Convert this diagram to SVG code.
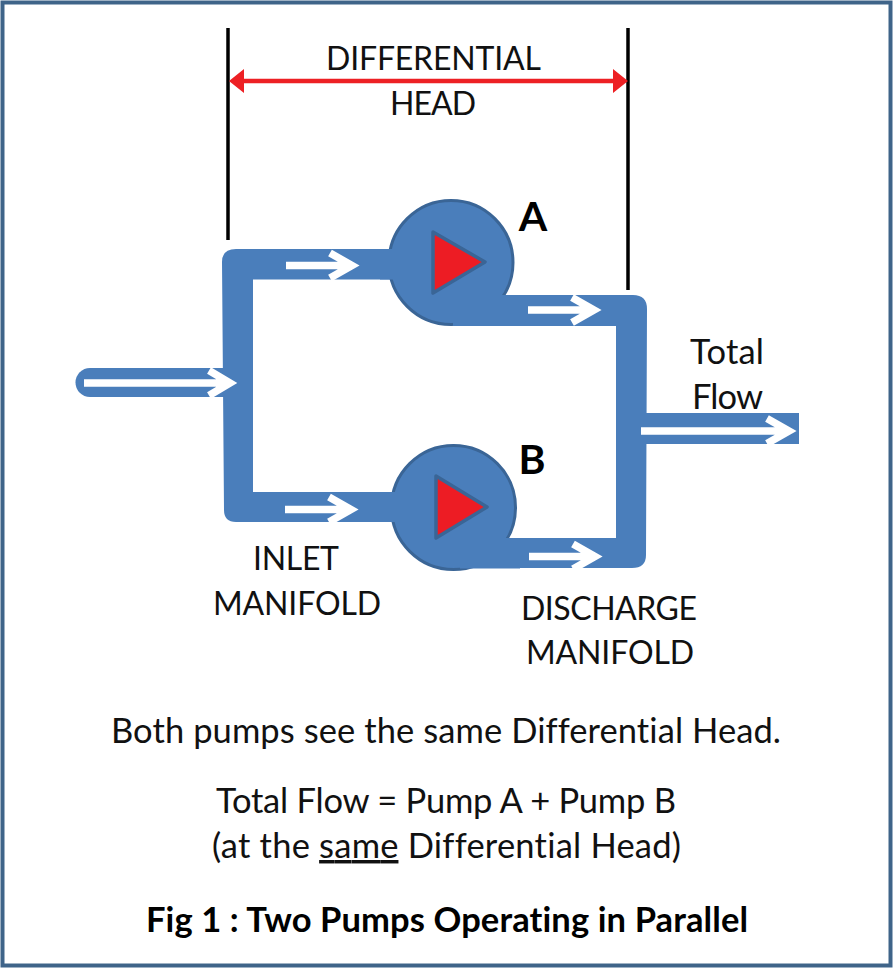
<svg xmlns="http://www.w3.org/2000/svg" width="893" height="968" viewBox="0 0 893 968">
<style>
text{font-family:Lato,"Open Sans",sans-serif;font-size:34.500px;fill:#111;text-anchor:middle;font-variant-ligatures:none}
.c{font-size:32px}
.b{font-weight:700;fill:#000}
.l{font-size:41px}
.pipe{fill:#4a7ebb}
.pump{fill:#4a7ebb;stroke:#3a6596;stroke-width:3}
.tri{fill:#ed1c24;stroke:#3a6596;stroke-width:3.500;stroke-linejoin:round}
.flow{fill:none;stroke:#fff;stroke-width:7.500}
.tick{stroke:#000;stroke-width:3.500}
</style>
<defs>
<g id="chev"><path class="flow" d="M-74 0H-10M-30-12.500L-8 0L-30 12.500"/></g>
</defs>
<rect x="2.500" y="2.500" width="888" height="963" fill="#fff" stroke="#3f6489" stroke-width="4"/>
<g id="connectors">
<path class="pipe" d="M90 368H240V397H90A14.500 14.500 0 0 1 90 368Z"/>
<path class="pipe" d="M236 249H400V279.500H253V492H400V522H236Q224 522 224 510L222 262Q222 249 236 249Z"/>
<path class="pipe" d="M453 295H633Q647 295 647 309L646 555Q646 568 632 568H460V538H616V326H453Z"/>
<path class="pipe" d="M640 413H799V444H640Z"/>
<line class="tick" x1="228" y1="28" x2="228" y2="240"/>
<line class="tick" x1="628" y1="28" x2="628" y2="290"/>
<path d="M244 78.700H613V69L628 81L613 93V83.300H244V93L229 81L244 69Z" fill="#ed2024"/>
</g>
<g id="pump-a"><circle class="pump" cx="451" cy="262.500" r="62"/><path class="pipe" d="M380 249H425V279.500H380Z"/><path class="pipe" d="M453 295H520V326H453Z"/><path class="tri" d="M433 232L485 262L433 293Z"/><text class="b l" x="533" y="231">A</text></g>
<g id="pump-b"><circle class="pump" cx="453.500" cy="507.500" r="62"/><path class="pipe" d="M380 492H428V522H380Z"/><path class="pipe" d="M460 538H520V568.500H460Z"/><path class="tri" d="M436 476L487 507L436 538Z"/><text class="b l" x="532" y="474">B</text></g>
<g id="arrows">
<path class="flow" d="M84 383H228M209 370.500L230 383L209 395.500"/>
<use href="#chev" transform="translate(360 265.500)"/>
<use href="#chev" transform="translate(359 509.500)"/>
<use href="#chev" transform="translate(602 310)"/>
<use href="#chev" transform="translate(603 556.500)"/>
<path class="flow" d="M641 431H787M767 418.500L789 431L767 443.500"/>
</g>
<g id="labels">
<text class="c" x="433.500" y="70" textLength="215">DIFFERENTIAL</text>
<text class="c" x="433" y="115" textLength="86">HEAD</text>
<text x="727" y="364" textLength="74">Total</text>
<text x="727.500" y="409" textLength="71">Flow</text>
<text class="c" x="296" y="570" textLength="86">INLET</text>
<text class="c" x="297" y="615" textLength="168">MANIFOLD</text>
<text class="c" x="609" y="620" textLength="176">DISCHARGE</text>
<text class="c" x="610" y="664" textLength="168">MANIFOLD</text>
<text x="446" y="743" textLength="670">Both pumps see the same Differential Head.</text>
<text x="446" y="813" textLength="460">Total Flow = Pump A + Pump B</text>
<text x="446.500" y="858" textLength="469">(at the <tspan text-decoration="underline">same</tspan> Differential Head)</text>
<text class="b" x="447" y="932" textLength="602">Fig 1 : Two Pumps Operating in Parallel</text>
</g>
</svg>
